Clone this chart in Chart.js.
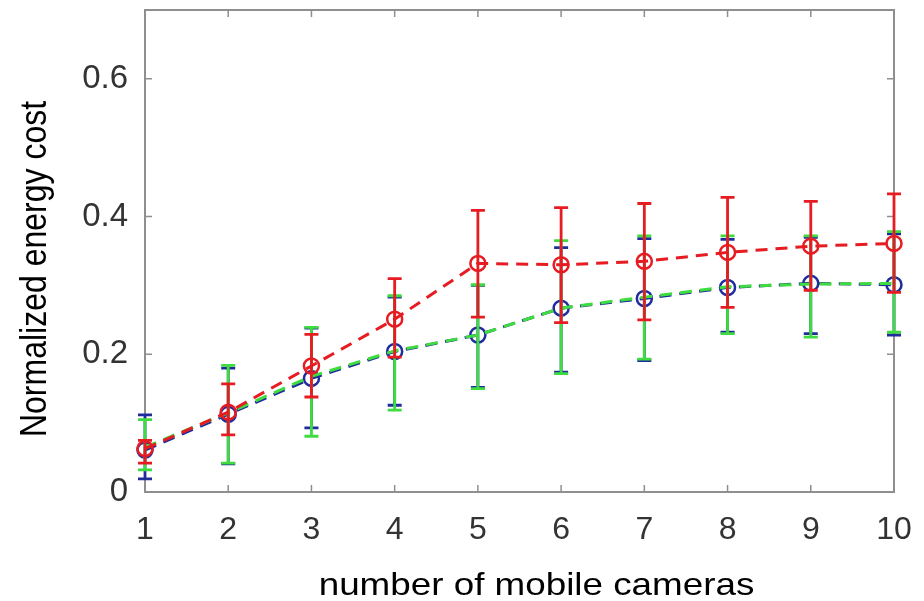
<!DOCTYPE html>
<html>
<head>
<meta charset="utf-8">
<script src="https://cdn.jsdelivr.net/npm/chart.js@4.4.1/dist/chart.umd.min.js"></script>
<style>
  html, body { margin: 0; padding: 0; background: #fff; }
  #wrap { width: 924px; height: 601px; }
</style>
</head>
<body>
<div id="wrap"><canvas id="chart" width="924" height="601"></canvas></div>
<script>
// number of mobile cameras
const cameras = [1, 2, 3, 4, 5, 6, 7, 8, 9, 10];
const xTicks  = [1, 2, 3, 4, 5, 6, 7, 8, 9, 10];
const yTicks  = [0, 0.2, 0.4, 0.6];
const xTitle  = 'number of mobile cameras';
const yTitle  = 'Normalized energy cost';

// red series (top curve)
const redMean = [0.063, 0.116, 0.183, 0.251, 0.332, 0.330, 0.335, 0.348, 0.357, 0.361];
const redHigh = [0.075, 0.157, 0.229, 0.310, 0.409, 0.413, 0.419, 0.428, 0.422, 0.433];
const redLow  = [0.042, 0.083, 0.138, 0.196, 0.254, 0.246, 0.250, 0.268, 0.293, 0.290];

// blue series
const blueMean = [0.061, 0.113, 0.165, 0.204, 0.228, 0.267, 0.281, 0.297, 0.303, 0.301];
const blueHigh = [0.112, 0.180, 0.238, 0.283, 0.300, 0.355, 0.368, 0.367, 0.370, 0.375];
const blueLow  = [0.019, 0.041, 0.093, 0.126, 0.152, 0.174, 0.191, 0.232, 0.230, 0.228];

// green series (almost on top of blue)
const greenMean = [0.065, 0.115, 0.168, 0.205, 0.228, 0.267, 0.283, 0.298, 0.302, 0.303];
const greenHigh = [0.105, 0.184, 0.239, 0.285, 0.301, 0.365, 0.372, 0.372, 0.372, 0.378];
const greenLow  = [0.032, 0.042, 0.081, 0.119, 0.150, 0.172, 0.193, 0.230, 0.225, 0.232];

const RED   = '#e61c22';
const BLUE  = '#1f2c9c';
const GREEN = '#3fdc3f';
const AXIS  = '#8f8f8f';
const FONT  = '"Liberation Sans", Arial, sans-serif';

const toPts = arr => arr.map((v, i) => ({ x: cameras[i], y: v }));

// vertical error bars with caps, drawn right after each dataset
const errorBars = {
  id: 'errorBars',
  afterDatasetDraw(chart, args) {
    const ds = chart.data.datasets[args.index];
    if (!ds.errLow) return;
    const { ctx, scales: { x, y } } = chart;
    const cap = 7;
    ctx.save();
    ctx.strokeStyle = ds.borderColor;
    ctx.lineWidth = 2.8;
    ctx.setLineDash([]);
    ds.errLow.forEach((lo, i) => {
      const px = x.getPixelForValue(cameras[i]);
      const yl = y.getPixelForValue(lo);
      const yh = y.getPixelForValue(ds.errHigh[i]);
      ctx.beginPath();
      ctx.moveTo(px, yl); ctx.lineTo(px, yh);
      ctx.moveTo(px - cap, yl); ctx.lineTo(px + cap, yl);
      ctx.moveTo(px - cap, yh); ctx.lineTo(px + cap, yh);
      ctx.stroke();
    });
    ctx.restore();
  }
};

// matlab style box with inward ticks on all four sides
const axesBox = {
  id: 'axesBox',
  beforeDatasetsDraw(chart) {
    const { ctx, chartArea: a, scales: { x, y } } = chart;
    ctx.save();
    ctx.strokeStyle = AXIS;
    ctx.lineWidth = 2;
    ctx.strokeRect(a.left, a.top, a.right - a.left, a.bottom - a.top);
    ctx.lineWidth = 1.5;
    ctx.beginPath();
    xTicks.forEach(v => {
      const px = x.getPixelForValue(v);
      ctx.moveTo(px, a.bottom); ctx.lineTo(px, a.bottom - 7);
      ctx.moveTo(px, a.top);    ctx.lineTo(px, a.top + 7);
    });
    yTicks.forEach(v => {
      const py = y.getPixelForValue(v);
      ctx.moveTo(a.left, py);  ctx.lineTo(a.left + 7, py);
      ctx.moveTo(a.right, py); ctx.lineTo(a.right - 7, py);
    });
    ctx.stroke();
    ctx.restore();
  }
};

// axis titles, a little wider than the plain font like in the exported figure
const axisTitles = {
  id: 'axisTitles',
  afterDraw(chart) {
    const { ctx, chartArea: a } = chart;
    ctx.save();
    ctx.fillStyle = '#000';
    ctx.font = '32px ' + FONT;
    ctx.textAlign = 'center';
    ctx.textBaseline = 'alphabetic';

    ctx.save();
    ctx.translate((a.left + a.right) / 2 + 17, chart.height - 6);
    ctx.scale(1.15, 1);
    ctx.fillText(xTitle, 0, 0);
    ctx.restore();

    ctx.save();
    ctx.translate(46, (a.top + a.bottom) / 2 + 18);
    ctx.scale(1.18, 1);
    ctx.rotate(-Math.PI / 2);
    ctx.fillText(yTitle, 0, 0);
    ctx.restore();

    ctx.restore();
  }
};

const lineDs = (label, mean, low, high, color, marker) => ({
  label,
  data: toPts(mean),
  errLow: low,
  errHigh: high,
  borderColor: color,
  backgroundColor: 'rgba(0,0,0,0)',
  borderWidth: 3,
  borderDash: [12, 8],
  pointStyle: 'circle',
  pointRadius: marker ? 7.5 : 0,
  pointBorderWidth: 2.5,
  pointBorderColor: color,
  pointBackgroundColor: 'rgba(0,0,0,0)',
  tension: 0,
  clip: 12
});

new Chart(document.getElementById('chart'), {
  type: 'line',
  data: {
    datasets: [
      // index 0 is painted last, so red ends up on top
      lineDs('red',   redMean,   redLow,   redHigh,   RED,   true),
      lineDs('green', greenMean, greenLow, greenHigh, GREEN, false),
      lineDs('blue',  blueMean,  blueLow,  blueHigh,  BLUE,  true)
    ]
  },
  options: {
    responsive: false,
    animation: false,
    layout: { padding: { top: 10, right: 30, left: 0, bottom: 0 } },
    plugins: { legend: { display: false }, tooltip: { enabled: false } },
    scales: {
      x: {
        type: 'linear',
        min: 1, max: 10,
        afterBuildTicks: s => { s.ticks = xTicks.map(v => ({ value: v })); },
        afterFit: s => { s.height = 109; s.paddingLeft = 0; s.paddingRight = 0; },
        grid: { display: false },
        border: { display: false },
        ticks: {
          padding: 11,
          color: '#333',
          font: { family: FONT, size: 32 },
          maxRotation: 0,
          callback: v => String(v)
        }
      },
      y: {
        type: 'linear',
        min: 0, max: 0.7,
        afterBuildTicks: s => { s.ticks = yTicks.map(v => ({ value: v })); },
        afterFit: s => { s.width = 145; s.paddingTop = 0; s.paddingBottom = 0; },
        grid: { display: false },
        border: { display: false },
        ticks: {
          padding: 9,
          color: '#333',
          font: { family: FONT, size: 33 },
          callback: v => String(v)
        }
      }
    }
  },
  plugins: [axesBox, errorBars, axisTitles]
});
</script>
</body>
</html>
